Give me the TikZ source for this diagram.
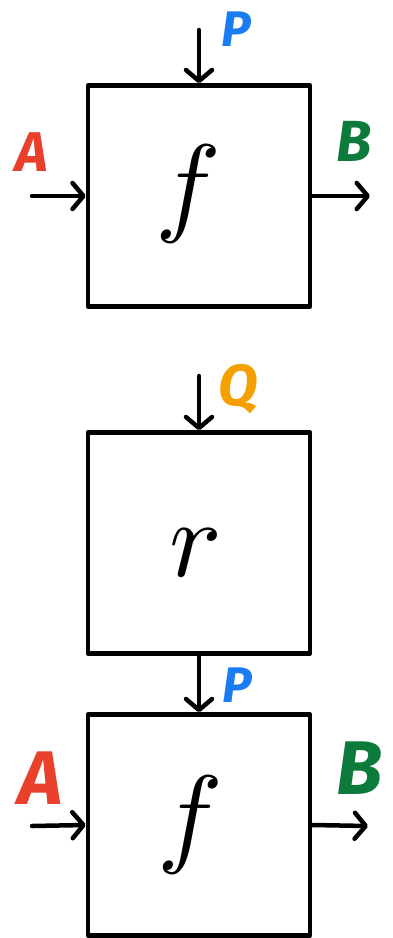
\documentclass[tikz,border=0pt]{standalone}
\usepackage{fontspec}
\newfontfamily\lab{Fira Sans}
\usetikzlibrary{arrows.meta}
\definecolor{cA}{HTML}{E8402A}
\definecolor{cB}{HTML}{0B7A3B}
\definecolor{cP}{HTML}{1A7CF2}
\definecolor{cQ}{HTML}{F5A000}
\tikzset{
  blk/.style={draw=black, line width=4.5pt, minimum width=222pt, minimum height=221pt, inner sep=0pt, line join=round},
  arr/.style={line width=4.5pt, line cap=round, -{Straight Barb[length=11pt,width=26pt,line width=4.5pt,round]}},
  lbl/.style={font=\lab\bfseries, inner sep=0pt},
  sym/.style={inner sep=0pt}
}
\begin{document}
\begin{tikzpicture}[x=1pt,y=-1pt]
\useasboundingbox (0,0) rectangle (392,938);
% top f box
\node[blk] (f1) at (199,196) {};
\node[sym] (f1t) at (188,194) {\scalebox{11}{$f$}};
\coordinate (p1) at (199,30);
\coordinate (a1) at (32,196);
\coordinate (b1) at (370,196);
\draw[arr] (p1) -- (f1.north);
\draw[arr] (a1) -- (f1.west);
\draw[arr] (f1.east) -- (b1);
\node[lbl, text=cP] (P1) at (237,29) {\fontsize{50}{50}\selectfont\textit{P}};
\node[lbl, text=cA] (A1) at (32,152) {\fontsize{56}{56}\selectfont\textit{A}};
\node[lbl, text=cB] (B1) at (354,141) {\fontsize{58}{58}\selectfont\textit{B}};
% r box
\node[blk] (r) at (199,543) {};
\node[sym] (rt) at (196,553) {\scalebox{11}{$r$}};
\coordinate (q) at (199,376);
\draw[arr] (q) -- (r.north);
\node[lbl, text=cQ] (Q) at (238,389) {\fontsize{58}{58}\selectfont\textit{Q}};
% bottom f box
\node[blk] (f2) at (199,825) {};
\node[sym] (f2t) at (190,825) {\scalebox{11}{$f$}};
\coordinate (a2) at (32,826);
\coordinate (b2) at (368,826);
\draw[arr] (r.south) -- (f2.north);
\draw[arr] (a2) -- (f2.west);
\draw[arr] (f2.east) -- (b2);
\node[lbl, text=cP] (P2) at (238,685) {\fontsize{50}{50}\selectfont\textit{P}};
\node[lbl, text=cA] (A2) at (41,778) {\fontsize{76}{76}\selectfont\textit{A}};
\node[lbl, text=cB] (B2) at (360,768) {\fontsize{76}{76}\selectfont\textit{B}};
\end{tikzpicture}
\end{document}
